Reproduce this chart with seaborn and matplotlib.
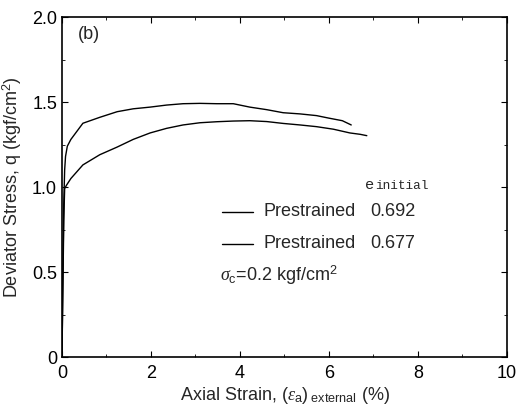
import matplotlib
matplotlib.use("Agg")
import matplotlib.pyplot as plt
import seaborn as sns
import pandas as pd
from matplotlib.ticker import MultipleLocator

sns.set_theme(style="white")
plt.rcParams['font.family'] = ['Liberation Sans', 'DejaVu Sans']
plt.rcParams['mathtext.fontset'] = 'custom'
plt.rcParams['mathtext.rm'] = 'Liberation Sans'
plt.rcParams['mathtext.it'] = 'Liberation Serif:italic'

strain_a = [0.0, 0.02, 0.04, 0.06, 0.08, 0.12, 0.2, 0.47, 0.85, 1.24, 1.6, 1.98, 2.35, 2.72, 3.1, 3.48, 3.85, 4.22, 4.6, 4.97, 5.35, 5.72, 6.0, 6.3, 6.5]
q_a = [0.0, 0.45, 0.9, 1.1, 1.18, 1.24, 1.28, 1.375, 1.41, 1.443, 1.46, 1.47, 1.482, 1.49, 1.492, 1.49, 1.49, 1.47, 1.455, 1.437, 1.43, 1.42, 1.405, 1.39, 1.365]

strain_b = [0.0, 0.02, 0.04, 0.06, 0.1, 0.2, 0.47, 0.85, 1.24, 1.6, 1.98, 2.35, 2.72, 3.1, 3.48, 3.85, 4.22, 4.6, 4.97, 5.35, 5.72, 6.1, 6.47, 6.7, 6.85]
q_b = [0.0, 0.4, 0.8, 0.99, 1.01, 1.05, 1.13, 1.19, 1.235, 1.28, 1.318, 1.345, 1.365, 1.378, 1.384, 1.388, 1.39, 1.385, 1.374, 1.365, 1.355, 1.34, 1.318, 1.31, 1.302]

labels = ["Prestrained", "Prestrained"]
e_initial = ["0.692", "0.677"]

df = pd.concat([
    pd.DataFrame({"strain": strain_a, "q": q_a, "run": "a"}),
    pd.DataFrame({"strain": strain_b, "q": q_b, "run": "b"}),
])

fig = plt.figure(figsize=(5.32, 4.05), dpi=100)
ax = fig.add_axes([0.1165, 0.1185, 0.8365, 0.8395])
sns.lineplot(data=df, x="strain", y="q", units="run", estimator=None,
             color="black", lw=1.0, sort=False, ax=ax, legend=False)

ax.set_xlim(0, 10)
ax.set_ylim(0, 2.0)
ax.set_xticks([0, 2, 4, 6, 8, 10])
ax.set_yticks([0, 0.5, 1.0, 1.5, 2.0])
ax.set_yticklabels(["0", "0.5", "1.0", "1.5", "2.0"])
ax.xaxis.set_minor_locator(MultipleLocator(1))
ax.yaxis.set_minor_locator(MultipleLocator(0.25))
ax.tick_params(which="both", direction="in", top=True, right=True, bottom=True, left=True,
               labelsize=13, colors="black")
ax.tick_params(which="major", length=4, width=0.8)
ax.tick_params(which="minor", length=2, width=0.6)
ax.tick_params(axis="x", pad=6)
for s in ax.spines.values():
    s.set_color("black")
    s.set_linewidth(1.2)

ax.set_xlabel(r"Axial Strain, ($\mathit{\varepsilon}_{\rm a}$)$_{\rm \ external}$ (%)", fontsize=13, labelpad=2)
ax.set_ylabel(r"Deviator Stress, q (kgf/cm$^2$)", fontsize=13, labelpad=6)

ax.text(0.35, 1.895, "(b)", fontsize=13, ha="left", va="center")

# legend-like annotation
ax.text(6.82, 0.99, "e", family="Liberation Mono", fontsize=11, ha="left", va="baseline")
ax.text(7.03, 0.99, "initial", family="Liberation Mono", fontsize=9.2, ha="left", va="baseline")
ys = [0.853, 0.665]
for y, lab, e in zip(ys, labels, e_initial):
    ax.plot([3.6, 4.3], [y, y], color="black", lw=1.0)
    ax.text(4.52, y, lab, fontsize=13, va="center", ha="left")
    ax.text(6.92, y, e, fontsize=13, va="center", ha="left")
ax.text(3.55, 0.48, r"$\mathit{\sigma}_{\rm c}$=0.2 kgf/cm$^2$", fontsize=13, va="center", ha="left")

fig.savefig("out.png", dpi=100)
